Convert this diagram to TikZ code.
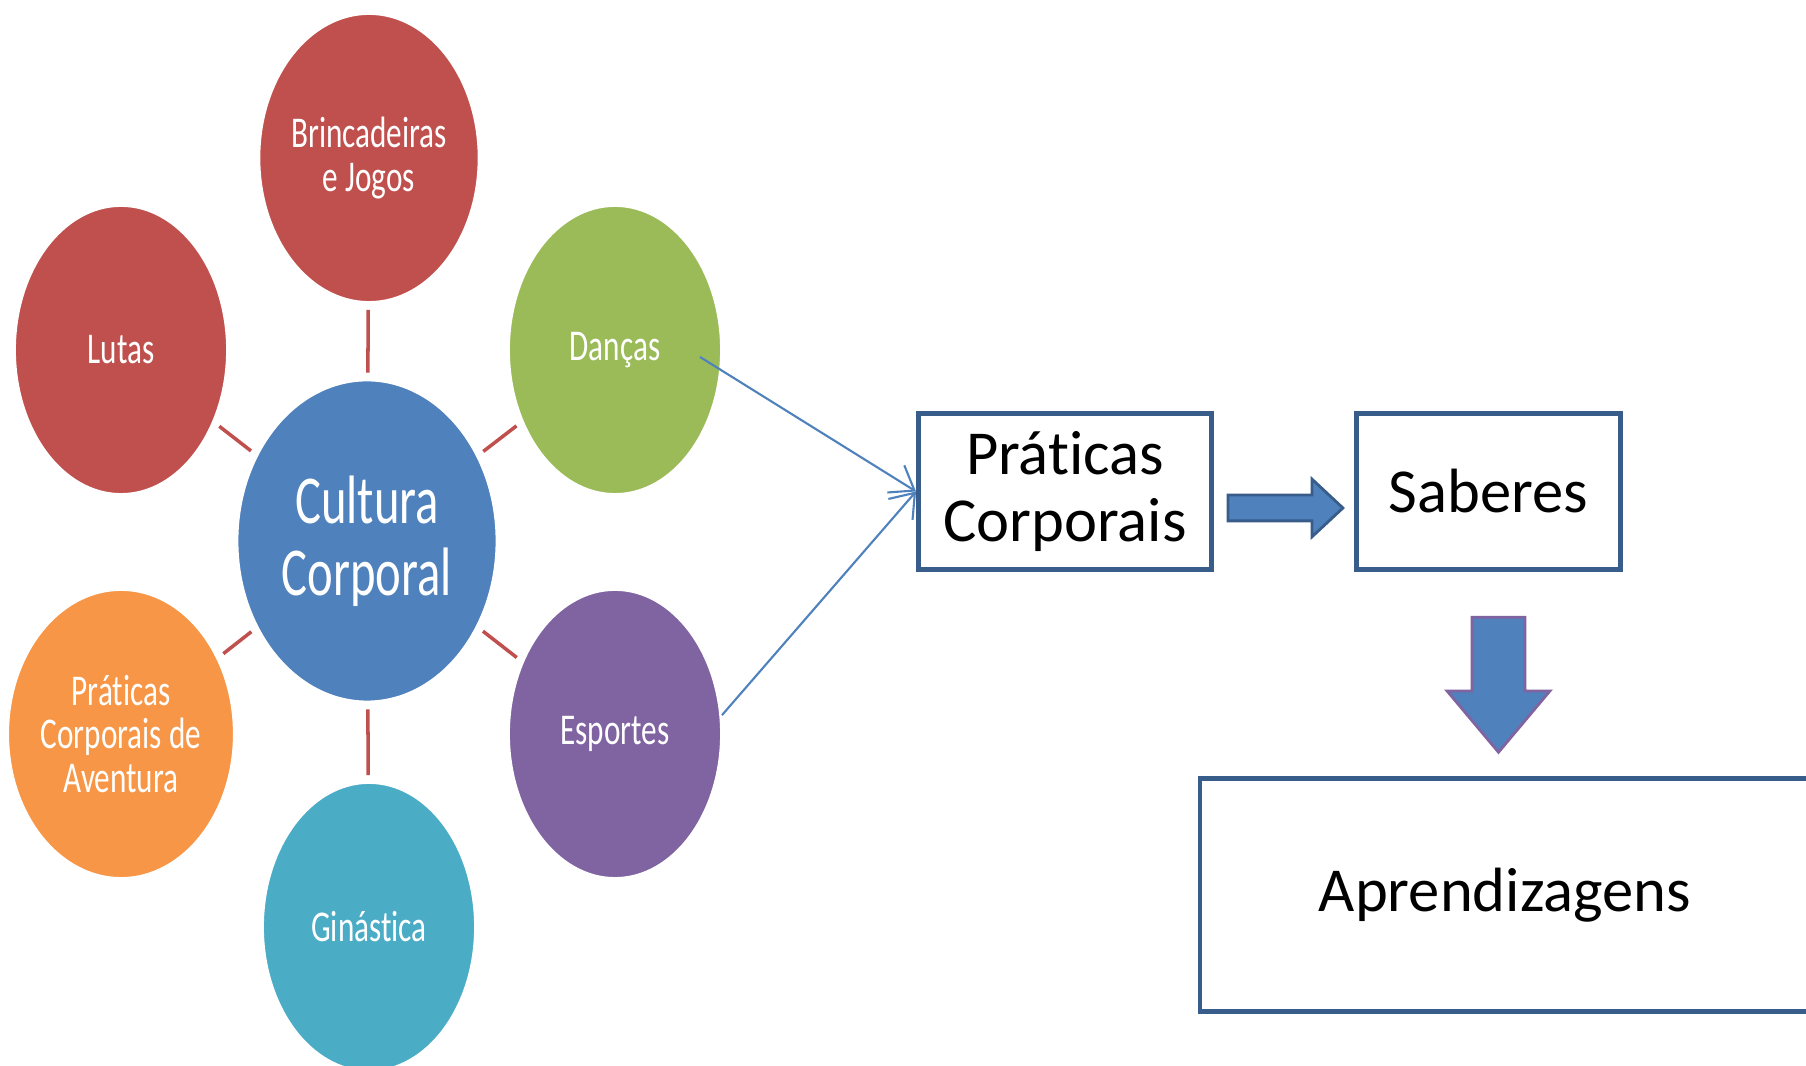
\documentclass[tikz,border=0pt]{standalone}
\usepackage{fontspec}
\setmainfont{Carlito}[Ligatures=NoCommon]
\newfontfamily\estreita[FakeStretch=0.71,Ligatures=NoCommon]{Carlito}
\usepackage{xcolor}
\usepackage{tikz}
\usetikzlibrary{shapes,arrows,arrows.meta,positioning}

\definecolor{vermelho}{HTML}{C0504D}
\definecolor{verde}{HTML}{9BBB59}
\definecolor{azul}{HTML}{4F81BD}
\definecolor{laranja}{HTML}{F79646}
\definecolor{roxo}{HTML}{8064A2}
\definecolor{ciano}{HTML}{4BACC6}
\definecolor{azulescuro}{HTML}{385D8A}

\begin{document}
\begin{tikzpicture}[
  bolha/.style={ellipse, draw=white, line width=0.8pt, text=white, align=center,
      minimum width=2.13cm, minimum height=2.89cm, inner sep=0pt,
      font=\estreita\fontsize{12.5}{12.4}\selectfont},
  caixa/.style={rectangle, draw=azulescuro, line width=1.4pt, fill=white,
      align=center, inner sep=0pt, font=\fontsize{17.8}{19}\selectfont},
  raio/.style={draw=vermelho, line width=1pt, shorten <=0.06cm, shorten >=0.06cm},
  seta/.style={draw=azul, line width=0.6pt, -{Straight Barb[length=2.2mm,width=3.2mm]}},
  bloco/.style={single arrow, fill=azul, line width=0.8pt, inner xsep=0pt}
]
\useasboundingbox (0,0) rectangle (18.06,10.66);

  % Nodos
  \node[bolha, fill=azul, minimum width=2.6cm, minimum height=3.22cm,
    font=\estreita\fontsize{19.5}{20.6}\selectfont] (cc) at (3.67,5.25) {Cultura\\Corporal};
  \node[bolha, fill=vermelho] (bj) at (3.69,9.08) {Brincadeiras\\e Jogos};
  \node[bolha, fill=vermelho] (lu) at (1.21,7.16) {Lutas};
  \node[bolha, fill=verde] (da) at (6.15,7.16) {Danças};
  \node[bolha, fill=laranja] (pa) at (1.21,3.32) {Práticas\\Corporais de\\Aventura};
  \node[bolha, fill=roxo] (es) at (6.15,3.32) {Esportes};
  \node[bolha, fill=ciano] (gi) at (3.69,1.39) {Ginástica};

  \foreach \n in {bj,lu,da,pa,es,gi}
    \draw[raio] (cc) -- (\n);

  \node[caixa, minimum width=2.93cm, minimum height=1.56cm] (pc) at (10.65,5.745) {Práticas\\Corporais};
  \node[caixa, minimum width=2.64cm, minimum height=1.56cm, right=1.40cm of pc] (sb) {Saberes};
  \node[caixa, minimum width=6.1cm, minimum height=2.33cm] (ap) at (15.05,1.71) {Aprendizagens};

  \node[bloco, draw=azulescuro, inner ysep=0.115cm, minimum height=1.15cm,
    single arrow head extend=0.16cm, single arrow tip angle=86] (ar1) at (12.785,5.58) {};
  \node[bloco, draw=roxo, rotate=-90, inner ysep=0.25cm, minimum height=1.35cm,
    single arrow head extend=0.25cm, single arrow tip angle=80] (ar2) at (14.985,3.97) {};

  % setas finas
  \coordinate (da-saida) at (7.00,7.09);
  \draw[seta] (da-saida) -- (pc.west);
  \draw[seta] (es.10) -- (pc.west);

\end{tikzpicture}
\end{document}
